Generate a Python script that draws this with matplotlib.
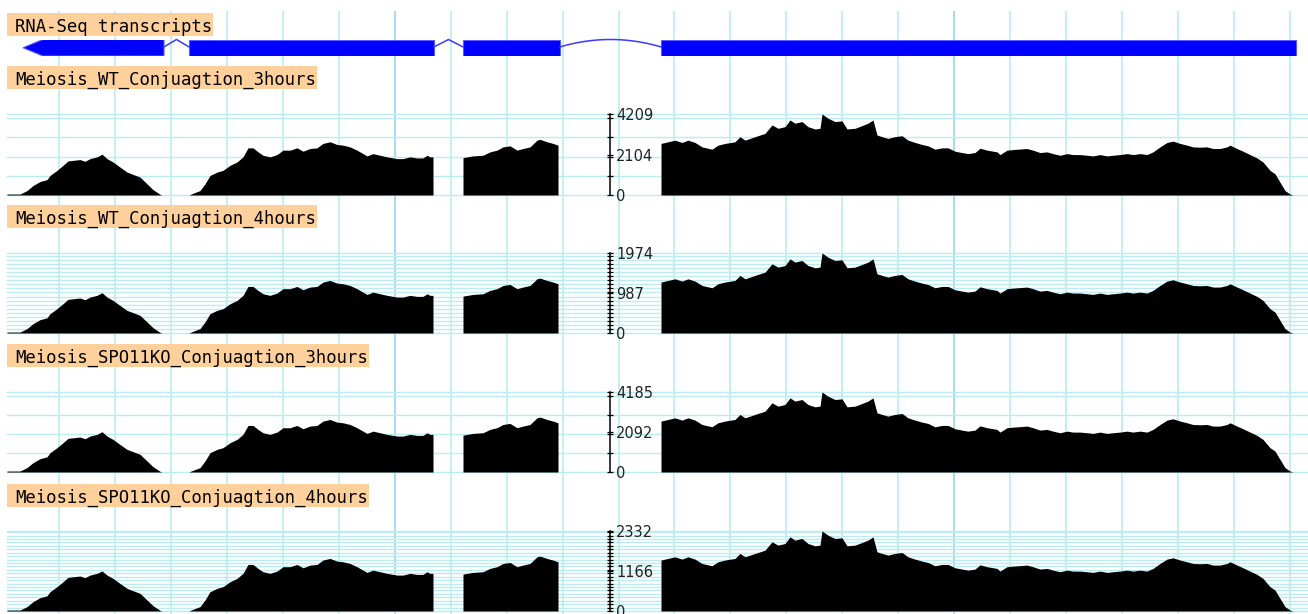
import numpy as np
import matplotlib.pyplot as plt
from matplotlib.patches import Polygon, Rectangle
from matplotlib.ticker import FixedLocator

W, H = 1308, 614

# transcript model (exon boundaries, browser coordinates)
exon_starts = [23, 189, 463, 661]
exon_ends = [164, 434, 560, 1296]

# coverage sample positions inside each exon
e1_pos = [7, 20, 27, 33, 40, 47, 50, 57, 63, 68, 80, 85, 90, 97, 102, 107, 113, 120,
          127, 133, 140, 147, 153, 160, 162]
e2_pos = [189, 193, 200, 205, 210, 217, 223, 230, 237, 243, 248, 253, 258, 263, 270,
          277, 283, 290, 297, 303, 310, 317, 323, 330, 337, 343, 350, 357, 363, 367,
          373, 380, 387, 397, 403, 410, 417, 423, 427, 430, 433]
e3_pos = [463, 473, 483, 490, 497, 503, 510, 517, 523, 530, 537, 540, 547, 553, 558]
e4_pos = [661, 668, 675, 682, 688, 695, 702, 712, 718, 725,
          735, 740, 745, 752, 758, 765, 772, 778, 785, 790,
          795, 802, 808, 815, 820, 822, 828, 835, 842, 847,
          855, 862, 868, 873, 877, 882, 888, 895, 902, 908,
          915, 922, 928, 935, 942, 948, 955, 962, 968, 975,
          980, 987, 997, 1000, 1007, 1013, 1027, 1033, 1040, 1047,
          1053, 1060, 1067, 1073, 1080, 1087, 1093, 1100, 1107, 1113,
          1120, 1127, 1133, 1140, 1147, 1153, 1160, 1167, 1173, 1180,
          1187, 1193, 1200, 1207, 1213, 1220, 1227, 1230, 1237, 1243,
          1250, 1257, 1263, 1270, 1275, 1280, 1285, 1290, 1293]
exon_pos = [e1_pos, e2_pos, e3_pos, e4_pos]

# read coverage per exon
wt_3h = [
    [50, 50, 230, 490, 700, 800, 1015, 1280, 1540, 1770, 1840, 1750, 1890, 1980, 2120,
     1890, 1715, 1450, 1190, 1070, 930, 580, 280, 35, 0],
    [0, 90, 230, 580, 1015, 1190, 1280, 1540, 1715, 1980, 2450, 2450, 2240, 2065, 1980,
     2100, 2330, 2330, 2450, 2275, 2415, 2450, 2680, 2765, 2625, 2590, 2500, 2330, 2150,
     2030, 2150, 2065, 1980, 1890, 1890, 1980, 1925, 1925, 2065, 1980, 1980],
    [1940, 2030, 2065, 2240, 2330, 2500, 2555, 2330, 2415, 2500, 2850, 2890, 2765, 2680, 2590],
    [2680, 2765, 2850, 2730, 2850, 2730, 2500, 2380, 2590, 2680,
     2765, 3030, 2850, 2975, 3080, 3200, 3640, 3465, 3550, 3900,
     3730, 3815, 3550, 3430, 3465, 4209, 3990, 3815, 3850, 3430,
     3465, 3605, 3730, 3900, 3115, 3030, 2940, 3030, 3080, 2850,
     2730, 2625, 2555, 2380, 2450, 2450, 2275, 2205, 2150, 2205,
     2430, 2330, 2240, 2100, 2330, 2360, 2415, 2330, 2205, 2240,
     2150, 2065, 2150, 2100, 2100, 2065, 2030, 2100, 2030, 2065,
     2100, 2150, 2100, 2150, 2100, 2240, 2500, 2730, 2800, 2680,
     2590, 2500, 2485, 2500, 2415, 2415, 2500, 2590, 2415, 2275,
     2100, 1925, 1715, 1280, 1100, 665, 230, 50, 0],
]
wt_4h = [
    [23, 23, 108, 230, 328, 375, 476, 600, 722, 830, 863, 821, 886, 929, 994,
     886, 804, 680, 558, 502, 436, 272, 131, 16, 0],
    [0, 42, 108, 272, 476, 558, 600, 722, 804, 929, 1149, 1149, 1051, 968, 929,
     985, 1093, 1093, 1149, 1067, 1133, 1149, 1257, 1297, 1231, 1215, 1173, 1093, 1008,
     952, 1008, 968, 929, 886, 886, 929, 903, 903, 968, 929, 929],
    [910, 952, 968, 1051, 1093, 1173, 1198, 1093, 1133, 1173, 1337, 1355, 1297, 1257, 1215],
    [1257, 1297, 1337, 1280, 1337, 1280, 1173, 1116, 1215, 1257,
     1297, 1421, 1337, 1395, 1445, 1501, 1707, 1625, 1665, 1829,
     1749, 1789, 1665, 1609, 1625, 1974, 1871, 1789, 1806, 1609,
     1625, 1691, 1749, 1829, 1461, 1421, 1379, 1421, 1445, 1337,
     1280, 1231, 1198, 1116, 1149, 1149, 1067, 1034, 1008, 1034,
     1140, 1093, 1051, 985, 1093, 1107, 1133, 1093, 1034, 1051,
     1008, 968, 1008, 985, 985, 968, 952, 985, 952, 968,
     985, 1008, 985, 1008, 985, 1051, 1173, 1280, 1313, 1257,
     1215, 1173, 1165, 1173, 1133, 1133, 1173, 1215, 1133, 1067,
     985, 903, 804, 600, 516, 312, 108, 23, 0],
]
ko_3h = [
    [50, 50, 229, 487, 696, 795, 1009, 1272, 1531, 1759, 1829, 1740, 1879, 1968, 2107,
     1879, 1705, 1441, 1183, 1064, 924, 577, 278, 35, 0],
    [0, 89, 229, 577, 1009, 1183, 1272, 1531, 1705, 1968, 2435, 2435, 2227, 2053, 1968,
     2087, 2316, 2316, 2435, 2261, 2401, 2435, 2664, 2748, 2609, 2574, 2485, 2316, 2137,
     2018, 2137, 2053, 1968, 1879, 1879, 1968, 1913, 1913, 2053, 1968, 1968],
    [1928, 2018, 2053, 2227, 2316, 2485, 2540, 2316, 2401, 2485, 2833, 2873, 2748, 2664, 2574],
    [2664, 2748, 2833, 2714, 2833, 2714, 2485, 2366, 2574, 2664,
     2748, 3012, 2833, 2957, 3062, 3181, 3618, 3444, 3529, 3877,
     3708, 3792, 3529, 3409, 3444, 4185, 3966, 3792, 3827, 3409,
     3444, 3583, 3708, 3877, 3096, 3012, 2922, 3012, 3062, 2833,
     2714, 2609, 2540, 2366, 2435, 2435, 2261, 2192, 2137, 2192,
     2415, 2316, 2227, 2087, 2316, 2346, 2401, 2316, 2192, 2227,
     2137, 2053, 2137, 2087, 2087, 2053, 2018, 2087, 2018, 2053,
     2087, 2137, 2087, 2137, 2087, 2227, 2485, 2714, 2783, 2664,
     2574, 2485, 2470, 2485, 2401, 2401, 2485, 2574, 2401, 2261,
     2087, 1913, 1705, 1272, 1093, 661, 229, 50, 0],
]
ko_4h = [
    [28, 28, 127, 271, 388, 443, 562, 709, 853, 981, 1019, 970, 1047, 1097, 1166,
     1047, 950, 803, 659, 593, 515, 321, 155, 19, 0],
    [0, 50, 127, 321, 562, 659, 709, 853, 950, 1097, 1357, 1357, 1241, 1144, 1097,
     1163, 1291, 1291, 1357, 1260, 1338, 1357, 1485, 1532, 1454, 1435, 1385, 1291, 1191,
     1125, 1191, 1144, 1097, 1047, 1047, 1097, 1066, 1066, 1144, 1097, 1097],
    [1075, 1125, 1144, 1241, 1291, 1385, 1415, 1291, 1338, 1385, 1579, 1601, 1532, 1485, 1435],
    [1485, 1532, 1579, 1512, 1579, 1512, 1385, 1319, 1435, 1485,
     1532, 1679, 1579, 1648, 1706, 1773, 2017, 1920, 1967, 2161,
     2066, 2114, 1967, 1900, 1920, 2332, 2210, 2114, 2133, 1900,
     1920, 1997, 2066, 2161, 1726, 1679, 1629, 1679, 1706, 1579,
     1512, 1454, 1415, 1319, 1357, 1357, 1260, 1222, 1191, 1222,
     1346, 1291, 1241, 1163, 1291, 1307, 1338, 1291, 1222, 1241,
     1191, 1144, 1191, 1163, 1163, 1144, 1125, 1163, 1125, 1144,
     1163, 1191, 1163, 1191, 1163, 1241, 1385, 1512, 1551, 1485,
     1435, 1385, 1377, 1385, 1338, 1338, 1385, 1435, 1338, 1260,
     1163, 1066, 950, 709, 609, 368, 127, 28, 0],
]

track_names = ["Meiosis_WT_Conjuagtion_3hours", "Meiosis_WT_Conjuagtion_4hours",
               "Meiosis_SPO11KO_Conjuagtion_3hours", "Meiosis_SPO11KO_Conjuagtion_4hours"]
track_data = [wt_3h, wt_4h, ko_3h, ko_4h]
track_max = [4209, 1974, 4185, 2332]
track_step = [1000, 100, 1000, 100]

# layout in pixels
x_left = 7
label_tops = [13, 66, 205, 344, 484]
track_px = [(114, 195), (253, 333), (392, 472), (531, 611)]
axis_x = 610
grid_x0, grid_dx, n_grid = 59, 55.95, 23

grid_c = '#bcecf1'
grid_major = '#9dd3ec'
label_bg = '#fed09c'

fig = plt.figure(figsize=(W / 100, H / 100), dpi=100)
fig.patch.set_facecolor('white')


def add_ax(top, bottom):
    return fig.add_axes([x_left / W, 1 - bottom / H, 1 - x_left / W, (bottom - top) / H])


# vertical grid behind everything
bg = add_ax(11, H)
bg.set_xlim(x_left, W)
bg.set_ylim(0, 1)
bg.axis('off')
for i in range(n_grid):
    gx = grid_x0 + i * grid_dx
    bg.axvline(gx, color=grid_major if i % 10 == 6 else grid_c, lw=1.2, zorder=0)

# gene model
gax = add_ax(39.5, 56)
gax.set_xlim(x_left, W)
gax.set_ylim(0, 1)
gax.axis('off')
blue = '#0000ff'
edge = '#5a5aff'
for i, (s, e) in enumerate(zip(exon_starts, exon_ends)):
    if i == 0:
        pts = [(s, 0.5), (s + 20, 1), (e, 1), (e, 0), (s + 20, 0)]
        gax.add_patch(Polygon(pts, closed=True, fc=blue, ec=edge, lw=0.8))
    else:
        gax.add_patch(Rectangle((s, 0), e - s, 1, fc=blue, ec=edge, lw=0.8))
for i in range(3):
    a, b = exon_ends[i], exon_starts[i + 1]
    mid = (a + b) / 2
    if b - a < 50:
        gax.plot([a, mid, b], [0.55, 1.0, 0.55], color='#3a3aff', lw=1.1, clip_on=False)
    else:
        xs = np.linspace(a, b, 60)
        ys = 0.55 + 0.45 * (1 - ((xs - mid) / (mid - a)) ** 2)
        gax.plot(xs, ys, color='#3a3aff', lw=1.1, clip_on=False)

# coverage tracks
for (top_px, bot_px), data, ymax, step in zip(track_px, track_data, track_max, track_step):
    ax = add_ax(top_px, bot_px)
    ax.patch.set_alpha(0)
    ax.set_xlim(x_left, W)
    ax.set_ylim(0, ymax)
    for v in list(np.arange(0, ymax, step)) + [ymax]:
        ax.axhline(v, color=grid_c, lw=1.0, zorder=1, clip_on=False)
    for pos, vals in zip(exon_pos, data):
        ax.fill_between(pos, vals, 0, color='black', lw=0, zorder=3)
    for side in ['left', 'top', 'bottom']:
        ax.spines[side].set_visible(False)
    sp = ax.spines['right']
    sp.set_position(('data', axis_x))
    sp.set_bounds(0, ymax)
    sp.set_linewidth(1.1)
    sp.set_zorder(4)
    ax.yaxis.set_ticks_position('right')
    ax.set_yticks([0, ymax // 2, ymax])
    ax.set_yticklabels(['0', str(ymax // 2), str(ymax)])
    ax.yaxis.set_minor_locator(FixedLocator(np.arange(step, ymax, step)))
    ax.tick_params(axis='y', which='both', direction='inout', length=5, width=0.9,
                   pad=2, labelsize=10.5, labelcolor='#222222')
    ax.set_xticks([])

# track labels with peach boxes
labels = ["RNA-Seq transcripts"] + track_names
texts = []
for name, top in zip(labels, label_tops):
    t = fig.text(15 / W, 1 - (top + 19) / H, name, family='DejaVu Sans Mono',
                 fontsize=12.4, va='baseline', ha='left', color='black', zorder=3)
    texts.append((t, top))

fig.canvas.draw()
for t, top in texts:
    bb = t.get_window_extent()
    fig.add_artist(Rectangle((x_left / W, 1 - (top + 23) / H), (bb.x1 + 1 - x_left) / W, 23 / H,
                             transform=fig.transFigure, fc=label_bg, ec='none', zorder=2))

fig.savefig('out.png', dpi=100)
